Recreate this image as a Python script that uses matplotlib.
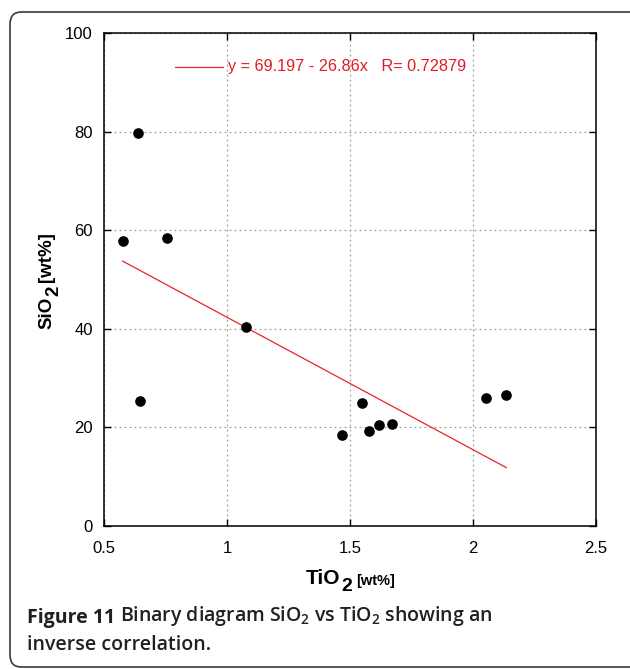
import matplotlib
matplotlib.use("Agg")
import matplotlib.pyplot as plt
from matplotlib.patches import FancyBboxPatch
import numpy as np

plt.rcParams["font.family"] = ["Liberation Sans", "DejaVu Sans"]
plt.rcParams["mathtext.fontset"] = "custom"
plt.rcParams["mathtext.rm"] = "Open Sans:semibold"
plt.rcParams["mathtext.default"] = "rm"

# data
tio2 = [0.639, 0.576, 0.757, 1.077, 0.648, 1.550, 1.469, 1.578, 1.619, 1.669, 2.054, 2.135]
sio2 = [79.7, 57.8, 58.5, 40.4, 25.4, 25.0, 18.5, 19.3, 20.5, 20.7, 25.9, 26.5]
fit_a = 69.197
fit_b = -26.86
fit_r = 0.72879

xticks = [0.5, 1, 1.5, 2, 2.5]
xtick_labels = ["0.5", "1", "1.5", "2", "2.5"]
yticks = [0, 20, 40, 60, 80, 100]

W, H = 630, 669
fig = plt.figure(figsize=(W / 100, H / 100), dpi=100)

# rounded frame around the figure + caption
frame = FancyBboxPatch((10 / W, 1 - 667 / H), 640 / W, 655 / H,
                       boxstyle="round,pad=0,rounding_size=0.018",
                       transform=fig.transFigure, fill=False,
                       edgecolor="#3a3a3a", linewidth=1.2)
fig.patches.append(frame)

ax = fig.add_axes([104 / W, 1 - 526 / H, 492 / W, 493 / H])

ax.scatter(tio2, sio2, s=44, color="black", zorder=3)

xs = np.array([min(tio2), max(tio2)])
ax.plot(xs, fit_a + fit_b * xs, color="#e8242b", linewidth=0.9, zorder=2)

ax.set_xlim(0.5, 2.5)
ax.set_ylim(0, 100)
ax.set_xticks(xticks)
ax.set_xticklabels(xtick_labels)
ax.set_yticks(yticks)
ax.tick_params(direction="in", length=5, width=1, top=True, right=True,
               labelsize=12, pad=8, colors="black")
ax.tick_params(axis="x", pad=11)
ax.grid(True, linestyle=(0, (1.5, 2.5)), color="#a0a0a0", linewidth=0.9)
for s in ax.spines.values():
    s.set_linewidth(1.1)

# legend drawn by hand like the original
ax.plot([175 / W, 223 / W], [1 - 67 / H, 1 - 67 / H], transform=fig.transFigure,
        color="#e8242b", linewidth=0.9, clip_on=False)
fig.text(228 / W, 1 - 67 / H,
         "y = %.3f - %.2fx   R= %.5f" % (fit_a, -fit_b, fit_r),
         color="#e31b23", fontsize=11.7, va="center", ha="left")

# x axis label with big subscript
t1 = fig.text(306 / W, 1 - 588 / H, "TiO", fontsize=15, fontweight="bold",
              ha="left", va="bottom")
t2 = ax.annotate("2", xy=(1, 0), xycoords=t1, xytext=(0.5, -5),
                 textcoords="offset points", fontsize=14, fontweight="bold",
                 ha="left", va="bottom")
ax.annotate("[wt%]", xy=(1, 0), xycoords=(t2, t1), xytext=(3, 0),
            textcoords="offset points", fontsize=10.5, fontweight="bold",
            ha="left", va="bottom")

# y axis label
u1 = fig.text(55 / W, 1 - 329 / H, "SiO", fontsize=13.5, fontweight="bold",
              rotation=90, ha="right", va="bottom")
u2 = ax.annotate("2", xy=(1, 1), xycoords=u1, xytext=(5, 0.5),
                 textcoords="offset points", fontsize=13.5, fontweight="bold",
                 rotation=90, ha="right", va="bottom")
ax.annotate("[wt%]", xy=(1, 1), xycoords=(u1, u2), xytext=(0, 3),
            textcoords="offset points", fontsize=13.5, fontweight="bold",
            rotation=90, ha="right", va="bottom")

# caption
c1 = fig.text(27 / W, 1 - 623 / H, "Figure 11", fontsize=14,
              fontweight="bold", family="Open Sans", color="#231f20",
              ha="left", va="baseline")
ax.annotate(r"Binary diagram SiO$_2$ vs TiO$_2$ showing an",
            xy=(1, 0), xycoords=c1, xytext=(3.5, 0), textcoords="offset points",
            fontsize=14, fontweight="semibold", family="Open Sans",
            color="#231f20", ha="left", va="bottom")
fig.text(27 / W, 1 - 650 / H, "inverse correlation.", fontsize=14,
         fontweight="semibold", family="Open Sans", color="#231f20",
         ha="left", va="baseline")

fig.savefig("out.png", dpi=100)
